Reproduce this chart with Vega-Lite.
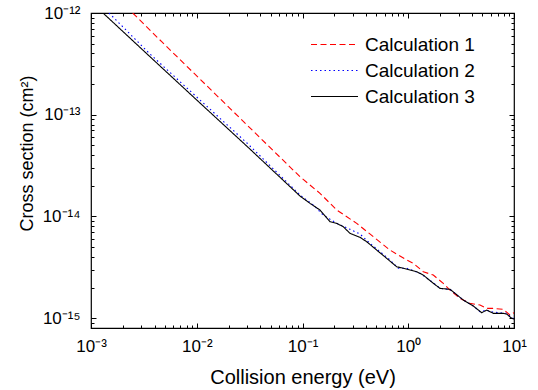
{
  "$schema": "https://vega.github.io/schema/vega-lite/v6.json",
  "width": 423,
  "height": 315,
  "autosize": {"type": "none"},
  "padding": {"left": 91, "top": 13, "right": 24, "bottom": 62},
  "background": "white",
  "data": {
    "values": [
      {"calc": "Calculation 1", "energy": 0.002479, "cs": 1e-12},
      {"calc": "Calculation 1", "energy": 0.00466, "cs": 5.22e-13},
      {"calc": "Calculation 1", "energy": 0.0947, "cs": 2.457e-14},
      {"calc": "Calculation 1", "energy": 0.1464, "cs": 1.687e-14},
      {"calc": "Calculation 1", "energy": 0.2106, "cs": 1.156e-14},
      {"calc": "Calculation 1", "energy": 0.3255, "cs": 8.55e-15},
      {"calc": "Calculation 1", "energy": 0.4672, "cs": 6.32e-15},
      {"calc": "Calculation 1", "energy": 0.672, "cs": 4.67e-15},
      {"calc": "Calculation 1", "energy": 0.967, "cs": 3.73e-15},
      {"calc": "Calculation 1", "energy": 1.116, "cs": 3.46e-15},
      {"calc": "Calculation 1", "energy": 1.388, "cs": 2.86e-15},
      {"calc": "Calculation 1", "energy": 1.725, "cs": 2.65e-15},
      {"calc": "Calculation 1", "energy": 2.145, "cs": 2.2e-15},
      {"calc": "Calculation 1", "energy": 2.482, "cs": 1.889e-15},
      {"calc": "Calculation 1", "energy": 3.085, "cs": 1.566e-15},
      {"calc": "Calculation 1", "energy": 3.836, "cs": 1.398e-15},
      {"calc": "Calculation 1", "energy": 4.77, "cs": 1.345e-15},
      {"calc": "Calculation 1", "energy": 5.518, "cs": 1.248e-15},
      {"calc": "Calculation 1", "energy": 6.372, "cs": 1.248e-15},
      {"calc": "Calculation 1", "energy": 7.923, "cs": 1.22e-15},
      {"calc": "Calculation 1", "energy": 9.17, "cs": 1.072e-15},
      {"calc": "Calculation 1", "energy": 10, "cs": 1.13e-15},

      {"calc": "Calculation 2", "energy": 0.00148, "cs": 1e-12},
      {"calc": "Calculation 2", "energy": 0.003613, "cs": 3.95e-13},
      {"calc": "Calculation 2", "energy": 0.01073, "cs": 1.395e-13},
      {"calc": "Calculation 2", "energy": 0.02967, "cs": 5.3e-14},
      {"calc": "Calculation 2", "energy": 0.0947, "cs": 1.623e-14},
      {"calc": "Calculation 2", "energy": 0.1265, "cs": 1.295e-14},
      {"calc": "Calculation 2", "energy": 0.1573, "cs": 1.032e-14},
      {"calc": "Calculation 2", "energy": 0.2106, "cs": 8.55e-15},
      {"calc": "Calculation 2", "energy": 0.2812, "cs": 7.47e-15},
      {"calc": "Calculation 2", "energy": 0.3498, "cs": 6.71e-15},
      {"calc": "Calculation 2", "energy": 0.4346, "cs": 5.44e-15},
      {"calc": "Calculation 2", "energy": 0.5407, "cs": 4.5e-15},
      {"calc": "Calculation 2", "energy": 0.672, "cs": 3.73e-15},
      {"calc": "Calculation 2", "energy": 0.805, "cs": 3.09e-15},
      {"calc": "Calculation 2", "energy": 0.967, "cs": 3.09e-15},
      {"calc": "Calculation 2", "energy": 1.039, "cs": 3.02e-15},
      {"calc": "Calculation 2", "energy": 1.291, "cs": 2.76e-15},
      {"calc": "Calculation 2", "energy": 1.725, "cs": 2.23e-15},
      {"calc": "Calculation 2", "energy": 1.996, "cs": 1.963e-15},
      {"calc": "Calculation 2", "energy": 2.482, "cs": 1.919e-15},
      {"calc": "Calculation 2", "energy": 2.768, "cs": 1.753e-15},
      {"calc": "Calculation 2", "energy": 3.316, "cs": 1.507e-15},
      {"calc": "Calculation 2", "energy": 4.122, "cs": 1.315e-15},
      {"calc": "Calculation 2", "energy": 4.77, "cs": 1.156e-15},
      {"calc": "Calculation 2", "energy": 5.518, "cs": 1.201e-15},
      {"calc": "Calculation 2", "energy": 5.93, "cs": 1.156e-15},
      {"calc": "Calculation 2", "energy": 7.37, "cs": 1.13e-15},
      {"calc": "Calculation 2", "energy": 8.531, "cs": 1.115e-15},
      {"calc": "Calculation 2", "energy": 9.513, "cs": 1.009e-15},
      {"calc": "Calculation 2", "energy": 10, "cs": 9.9e-16},

      {"calc": "Calculation 3", "energy": 0.001299, "cs": 1e-12},
      {"calc": "Calculation 3", "energy": 0.003613, "cs": 3.717e-13},
      {"calc": "Calculation 3", "energy": 0.01073, "cs": 1.303e-13},
      {"calc": "Calculation 3", "energy": 0.02967, "cs": 4.92e-14},
      {"calc": "Calculation 3", "energy": 0.0947, "cs": 1.587e-14},
      {"calc": "Calculation 3", "energy": 0.1177, "cs": 1.345e-14},
      {"calc": "Calculation 3", "energy": 0.1464, "cs": 1.156e-14},
      {"calc": "Calculation 3", "energy": 0.182, "cs": 8.87e-15},
      {"calc": "Calculation 3", "energy": 0.2106, "cs": 8.55e-15},
      {"calc": "Calculation 3", "energy": 0.243, "cs": 7.92e-15},
      {"calc": "Calculation 3", "energy": 0.2812, "cs": 6.82e-15},
      {"calc": "Calculation 3", "energy": 0.3498, "cs": 6.23e-15},
      {"calc": "Calculation 3", "energy": 0.4046, "cs": 5.64e-15},
      {"calc": "Calculation 3", "energy": 0.503, "cs": 4.67e-15},
      {"calc": "Calculation 3", "energy": 0.6255, "cs": 3.87e-15},
      {"calc": "Calculation 3", "energy": 0.7775, "cs": 3.2e-15},
      {"calc": "Calculation 3", "energy": 0.898, "cs": 3.09e-15},
      {"calc": "Calculation 3", "energy": 1.202, "cs": 2.86e-15},
      {"calc": "Calculation 3", "energy": 1.388, "cs": 2.65e-15},
      {"calc": "Calculation 3", "energy": 1.725, "cs": 2.2e-15},
      {"calc": "Calculation 3", "energy": 1.996, "cs": 1.963e-15},
      {"calc": "Calculation 3", "energy": 2.482, "cs": 1.919e-15},
      {"calc": "Calculation 3", "energy": 2.768, "cs": 1.753e-15},
      {"calc": "Calculation 3", "energy": 3.316, "cs": 1.507e-15},
      {"calc": "Calculation 3", "energy": 4.122, "cs": 1.315e-15},
      {"calc": "Calculation 3", "energy": 4.951, "cs": 1.13e-15},
      {"calc": "Calculation 3", "energy": 5.518, "cs": 1.201e-15},
      {"calc": "Calculation 3", "energy": 6.372, "cs": 1.115e-15},
      {"calc": "Calculation 3", "energy": 7.923, "cs": 1.115e-15},
      {"calc": "Calculation 3", "energy": 8.531, "cs": 1.097e-15},
      {"calc": "Calculation 3", "energy": 9.513, "cs": 9.95e-16},
      {"calc": "Calculation 3", "energy": 10, "cs": 9.8e-16}
    ]
  },
  "layer": [
    {
      "mark": {"type": "line", "strokeWidth": 1.1, "clip": true},
      "encoding": {
        "x": {
          "field": "energy", "type": "quantitative",
          "scale": {"type": "log", "domain": [0.001, 10], "nice": false},
          "axis": {
            "orient": "bottom",
            "values": [0.001, 0.01, 0.1, 1, 10],
            "labelExpr": "datum.value < 0.005 ? '10⁻³' : datum.value < 0.05 ? '10⁻²' : datum.value < 0.5 ? '10⁻¹' : datum.value < 5 ? '10⁰' : '10¹'",
            "tickSize": -5,
            "labelPadding": 15,
            "labelFontSize": 17,
            "labelFlush": false,
            "title": "Collision energy (eV)",
            "titleFontSize": 20,
            "titleBaseline": "alphabetic",
            "titleY": 55
          }
        },
        "y": {
          "field": "cs", "type": "quantitative",
          "scale": {"type": "log", "domain": [8e-16, 1e-12], "nice": false},
          "axis": {
            "orient": "left",
            "values": [1e-15, 1e-14, 1e-13, 1e-12],
            "labelExpr": "datum.value < 5e-15 ? '10⁻¹⁵' : datum.value < 5e-14 ? '10⁻¹⁴' : datum.value < 5e-13 ? '10⁻¹³' : '10⁻¹²'",
            "tickSize": -5,
            "labelPadding": 16,
            "labelFontSize": 17,
            "labelFlush": false,
            "title": "Cross section (cm²)",
            "titleFontSize": 18,
            "titleAngle": 270,
            "titleBaseline": "alphabetic",
            "titleAlign": "center",
            "titleX": -59,
            "titleY": 140
          }
        },
        "color": {
          "field": "calc", "type": "nominal",
          "scale": {"domain": ["Calculation 1", "Calculation 2", "Calculation 3"], "range": ["#ff0000", "#0000ff", "#000000"]},
          "legend": {
            "title": null,
            "orient": "none",
            "legendX": 228,
            "legendY": 16,
            "symbolType": "M-1.62,0H1.62",
            "symbolSize": 841,
            "symbolStrokeWidth": 1.1,
            "labelFontSize": 19,
            "labelFont": "Liberation Sans",
            "labelColor": "black",
            "labelOffset": 15,
            "rowPadding": 0,
            "padding": 0
          }
        },
        "strokeDash": {
          "field": "calc", "type": "nominal",
          "scale": {"domain": ["Calculation 1", "Calculation 2", "Calculation 3"], "range": [[6, 3.5], [1.5, 3], [1, 0]]},
          "legend": null
        }
      }
    },
    {
      "mark": {"type": "point", "opacity": 0},
      "encoding": {
        "x": {
          "field": "energy", "type": "quantitative",
          "axis": {
            "orient": "bottom",
            "values": [0.002, 0.003, 0.004, 0.005, 0.006, 0.007, 0.008, 0.009, 0.02, 0.03, 0.04, 0.05, 0.06, 0.07, 0.08, 0.09, 0.2, 0.3, 0.4, 0.5, 0.6, 0.7, 0.8, 0.9, 2, 3, 4, 5, 6, 7, 8, 9],
            "labels": false, "tickSize": -3, "title": null
          }
        },
        "y": {
          "field": "cs", "type": "quantitative",
          "axis": {
            "orient": "left",
            "values": [9e-16, 2e-15, 3e-15, 4e-15, 5e-15, 6e-15, 7e-15, 8e-15, 9e-15, 2e-14, 3e-14, 4e-14, 5e-14, 6e-14, 7e-14, 8e-14, 9e-14, 2e-13, 3e-13, 4e-13, 5e-13, 6e-13, 7e-13, 8e-13, 9e-13],
            "labels": false, "tickSize": -3, "title": null
          }
        }
      }
    },
    {
      "mark": {"type": "point", "opacity": 0},
      "encoding": {
        "x": {
          "field": "energy", "type": "quantitative",
          "axis": {"orient": "top", "values": [0.001, 0.01, 0.1, 1, 10], "labels": false, "tickSize": -5, "title": null}
        },
        "y": {
          "field": "cs", "type": "quantitative",
          "axis": {"orient": "right", "values": [1e-15, 1e-14, 1e-13, 1e-12], "labels": false, "tickSize": -5, "title": null}
        }
      }
    },
    {
      "mark": {"type": "point", "opacity": 0},
      "encoding": {
        "x": {
          "field": "energy", "type": "quantitative",
          "axis": {
            "orient": "top",
            "values": [0.002, 0.003, 0.004, 0.005, 0.006, 0.007, 0.008, 0.009, 0.02, 0.03, 0.04, 0.05, 0.06, 0.07, 0.08, 0.09, 0.2, 0.3, 0.4, 0.5, 0.6, 0.7, 0.8, 0.9, 2, 3, 4, 5, 6, 7, 8, 9],
            "labels": false, "tickSize": -3, "title": null
          }
        },
        "y": {
          "field": "cs", "type": "quantitative",
          "axis": {
            "orient": "right",
            "values": [9e-16, 2e-15, 3e-15, 4e-15, 5e-15, 6e-15, 7e-15, 8e-15, 9e-15, 2e-14, 3e-14, 4e-14, 5e-14, 6e-14, 7e-14, 8e-14, 9e-14, 2e-13, 3e-13, 4e-13, 5e-13, 6e-13, 7e-13, 8e-13, 9e-13],
            "labels": false, "tickSize": -3, "title": null
          }
        }
      }
    }
  ],
  "config": {
    "view": {"stroke": "black", "strokeWidth": 1.2},
    "axis": {
      "grid": false,
      "domain": false,
      "tickColor": "black",
      "tickWidth": 1,
      "labelColor": "black",
      "titleColor": "black",
      "labelFont": "Liberation Sans",
      "titleFont": "Liberation Sans",
      "titleFontWeight": "normal"
    }
  }
}
